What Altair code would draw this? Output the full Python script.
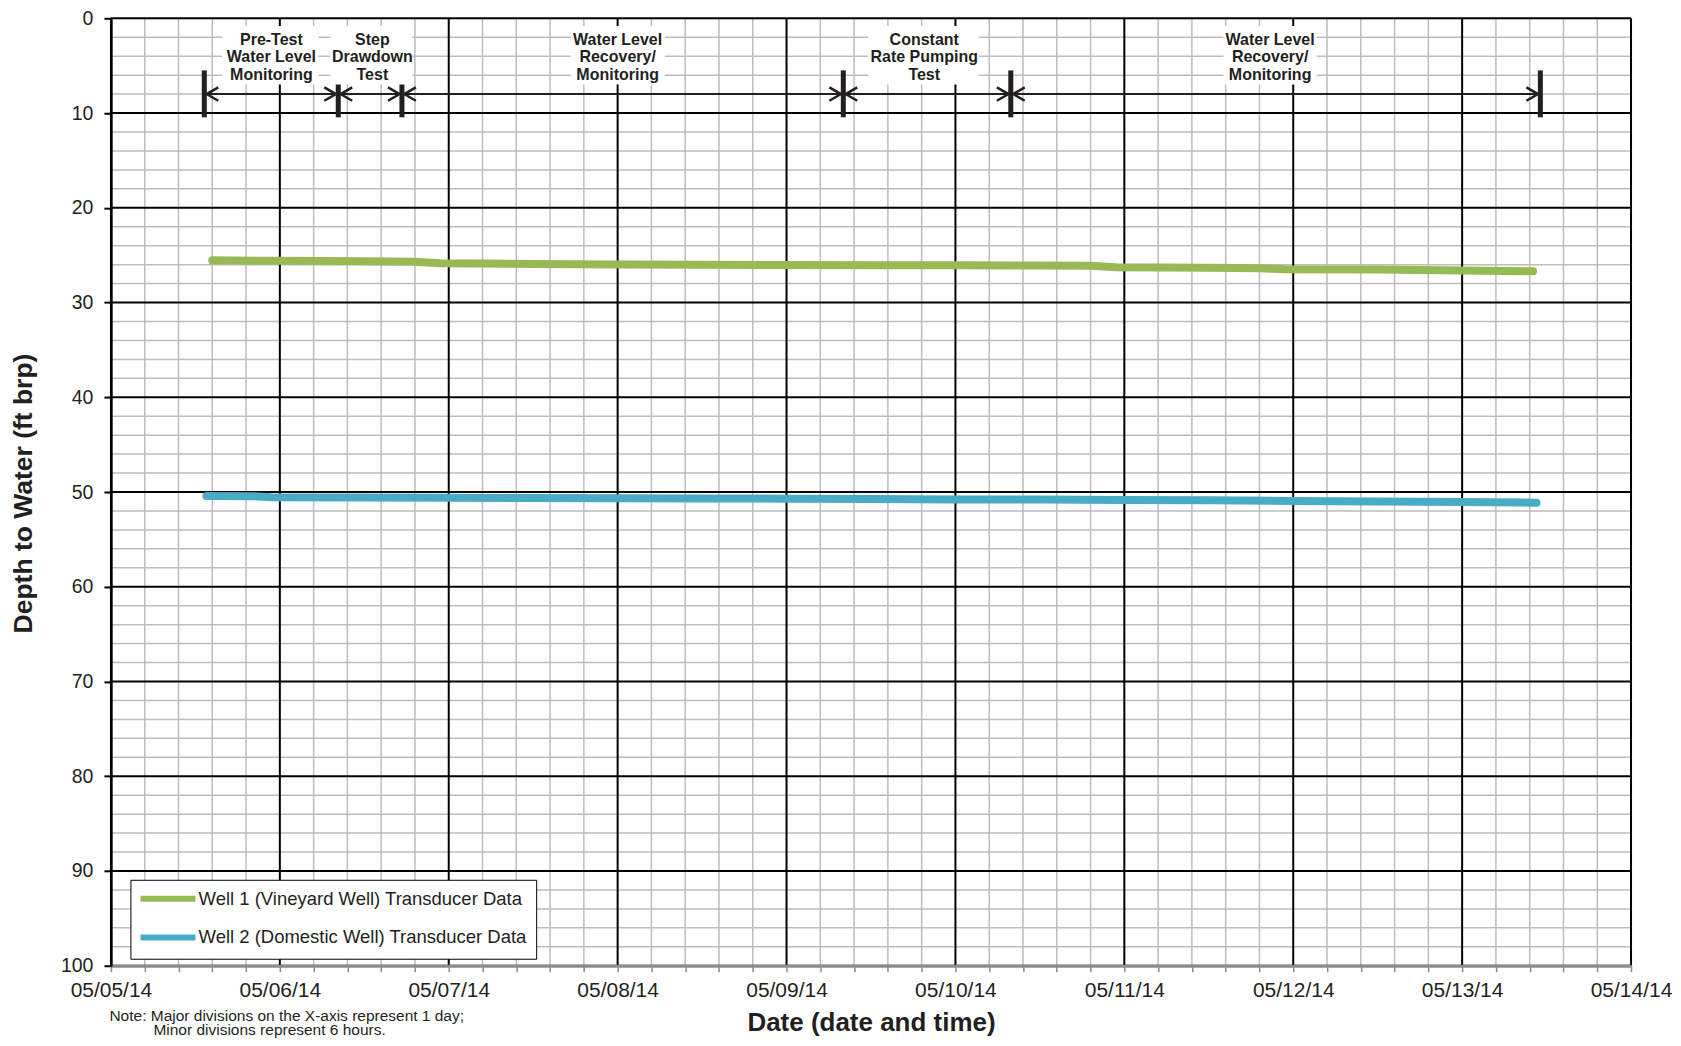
import altair as alt
import pandas as pd

# ---------------- data ----------------
well1_times = ["2014-05-05T14:24:00", "2014-05-06T00:00:00", "2014-05-06T12:00:00", "2014-05-06T19:12:00",
               "2014-05-06T22:48:00", "2014-05-07T12:00:00", "2014-05-08T00:00:00", "2014-05-08T12:00:00",
               "2014-05-09T00:00:00", "2014-05-09T12:00:00", "2014-05-10T00:00:00", "2014-05-10T12:00:00",
               "2014-05-10T19:12:00", "2014-05-10T22:48:00", "2014-05-11T12:00:00", "2014-05-11T19:12:00",
               "2014-05-11T22:48:00", "2014-05-12T12:00:00", "2014-05-13T00:00:00", "2014-05-13T10:05:00"]
well1_depth = [25.55, 25.60, 25.65, 25.70, 25.85, 25.92, 25.98, 26.02, 26.05, 26.06,
               26.07, 26.09, 26.12, 26.28, 26.33, 26.38, 26.48, 26.52, 26.63, 26.70]

well2_times = ["2014-05-05T13:34:00", "2014-05-05T20:24:00", "2014-05-05T22:48:00", "2014-05-06T12:00:00",
               "2014-05-07T00:00:00", "2014-05-07T12:00:00", "2014-05-08T00:00:00", "2014-05-08T12:00:00",
               "2014-05-09T00:00:00", "2014-05-09T12:00:00", "2014-05-10T00:00:00", "2014-05-10T12:00:00",
               "2014-05-11T00:00:00", "2014-05-11T12:00:00", "2014-05-12T00:00:00", "2014-05-12T12:00:00",
               "2014-05-13T00:00:00", "2014-05-13T10:34:00"]
well2_depth = [50.42, 50.45, 50.55, 50.58, 50.60, 50.63, 50.67, 50.68, 50.70, 50.74,
               50.78, 50.80, 50.84, 50.88, 50.95, 50.99, 51.05, 51.12]

series_names = ["Well 1 (Vineyard Well) Transducer Data", "Well 2 (Domestic Well) Transducer Data"]
series_colors = ["#98BA55", "#49ABC6"]

# test phase boundaries (bars) and labels
phase_bounds = ["2014-05-05T13:16:00", "2014-05-06T08:18:00", "2014-05-06T17:21:00",
                "2014-05-09T08:04:00", "2014-05-10T07:52:00", "2014-05-13T11:07:00"]
phase_labels = ["Pre-Test\nWater Level\nMonitoring", "Step\nDrawdown\nTest", "Water Level\nRecovery/\nMonitoring",
                "Constant\nRate Pumping\nTest", "Water Level\nRecovery/\nMonitoring"]
phase_label_at = ["2014-05-05T22:48:00", "2014-05-06T13:09:00", "2014-05-08T00:00:00",
                  "2014-05-09T19:34:00", "2014-05-11T20:43:00"]
label_box_start = ["2014-05-05T15:48:00", "2014-05-06T07:10:00", "2014-05-07T17:23:00",
                   "2014-05-09T11:38:00", "2014-05-11T14:05:00"]
label_box_end = ["2014-05-06T05:28:00", "2014-05-06T18:50:00", "2014-05-08T06:42:00",
                 "2014-05-10T03:20:00", "2014-05-12T03:20:00"]

x_start, x_end = "2014-05-05T00:00:00", "2014-05-14T00:00:00"
y_ticks = list(range(0, 101, 10))
note_lines = ["Note: Major divisions on the X-axis represent 1 day;", "Minor divisions represent 6 hours."]

# ---------------- tables ----------------
lines_df = pd.concat([
    pd.DataFrame({"t": well1_times, "v": well1_depth, "series": series_names[0]}),
    pd.DataFrame({"t": well2_times, "v": well2_depth, "series": series_names[1]}),
])
ticks_all = pd.date_range(x_start, x_end, freq="288min")
major_x = pd.DataFrame({"t": [d.strftime("%Y-%m-%dT%H:%M:%S") for d in ticks_all if d.hour == 0 and d.minute == 0]})
minor_x = pd.DataFrame({"t": [d.strftime("%Y-%m-%dT%H:%M:%S") for d in ticks_all if not (d.hour == 0 and d.minute == 0)]})
major_y = pd.DataFrame({"v": y_ticks})
minor_y = pd.DataFrame({"v": [v for v in range(0, 101, 2) if v % 10 != 0]})
x_values = [alt.DateTime(year=d.year, month=d.month, date=d.day, hours=d.hour, minutes=d.minute) for d in ticks_all]

bars_df = pd.DataFrame({"t": phase_bounds, "v": 5.5, "v2": 10.45})
seg_df = pd.DataFrame({"t": phase_bounds[:-1], "t2": phase_bounds[1:], "v": 8.0})
left_heads = pd.DataFrame({"t": phase_bounds[:-1], "v": 8.0})
right_heads = pd.DataFrame({"t": phase_bounds[1:], "v": 8.0})
labels_df = pd.DataFrame({"t": phase_label_at, "v": 2.3, "label": phase_labels})
boxes_df = pd.DataFrame({"t": label_box_start, "t2": label_box_end, "v": 0.8, "v2": 7.0})
note_df1 = pd.DataFrame({"txt": [note_lines[0]]})
note_df2 = pd.DataFrame({"txt": [note_lines[1]]})

FONT = "Liberation Sans"
INK = "#231f20"
W, H = 1521, 948

x_scale = alt.Scale(domain=[x_start, x_end], nice=False)
y_scale = alt.Scale(domain=[0, 100], reverse=True, nice=False, zero=False)

x_axis = alt.Axis(values=x_values, grid=False, zindex=1,
                  labelExpr="(hours(datum.value) == 0 && minutes(datum.value) == 0) ? timeFormat(datum.value, '%m/%d/%y') : ''",
                  labelFontSize=21, labelFont=FONT, labelColor=INK, labelPadding=8, labelFlush=False, labelOverlap=False,
                  tickColor="#8c8c8c", tickSize=6, tickWidth=1.5, domainColor="#8c8c8c", domainWidth=3,
                  title="Date (date and time)", titleFont=FONT, titleFontSize=26, titleFontWeight="bold", titleColor=INK,
                  titleX=W / 2, titleY=65, titleBaseline="alphabetic", titleAlign="center")
y_axis = alt.Axis(values=y_ticks, grid=False, zindex=1,
                  labelFontSize=19.5, labelFont=FONT, labelColor=INK, labelPadding=11,
                  tickColor="black", tickSize=7, tickWidth=2, domainColor="black", domainWidth=2.5,
                  title="Depth to Water (ft brp)", titleFont=FONT, titleFontSize=26.5, titleFontWeight="bold",
                  titleColor=INK, titleAngle=270, titleX=-79.5, titleY=H / 2 + 1, titleBaseline="alphabetic",
                  titleAlign="center")


def X(field):
    return alt.X(field, scale=x_scale, axis=x_axis)


def Y(field):
    return alt.Y(field, scale=y_scale, axis=y_axis)


minor_x_l = alt.Chart(minor_x).mark_rule(color="#bdbdbd", strokeWidth=1.5).encode(x=X("t:T"))
minor_y_l = alt.Chart(minor_y).mark_rule(color="#bdbdbd", strokeWidth=1.5).encode(y=Y("v:Q"))
major_x_l = alt.Chart(major_x).mark_rule(color="black", strokeWidth=2).encode(x=X("t:T"))
major_y_l = alt.Chart(major_y).mark_rule(color="black", strokeWidth=2).encode(y=Y("v:Q"))

lines_l = alt.Chart(lines_df).mark_line(strokeWidth=8, strokeCap="round", strokeJoin="round").encode(
    x=X("t:T"),
    y=Y("v:Q"),
    color=alt.Color("series:N", scale=alt.Scale(domain=series_names, range=series_colors),
                    legend=alt.Legend(orient="none", legendX=19.5, legendY=862, title=None,
                                      symbolType="M-4,0H4", symbolSize=189, symbolStrokeWidth=6,
                                      symbolOffset=18.6, labelOffset=20.6,
                                      labelFontSize=18.5, labelFont=FONT, labelColor=INK,
                                      labelLimit=500, padding=9, rowPadding=14.7,
                                      strokeColor="black", fillColor="white")),
)

bars_l = alt.Chart(bars_df).mark_rule(color=INK, strokeWidth=5).encode(x=X("t:T"), y=Y("v:Q"), y2="v2:Q")
boxes_l = alt.Chart(boxes_df).mark_rect(color="white").encode(x=X("t:T"), x2="t2:T", y=Y("v:Q"), y2="v2:Q")
text_l = alt.Chart(labels_df).mark_text(lineBreak="\n", font=FONT, fontSize=16, fontWeight="bold",
                                        lineHeight=17.3, align="center", baseline="middle", color=INK).encode(
    x=X("t:T"), y=Y("v:Q"), text="label:N")
seg_l = alt.Chart(seg_df).mark_rule(color=INK, strokeWidth=2).encode(x=X("t:T"), x2="t2:T", y=Y("v:Q"))
lh_l = alt.Chart(left_heads).mark_point(shape="M2.1,-1L0.35,0L2.1,1", size=177, filled=False, strokeWidth=2.5,
                                        color=INK, opacity=1).encode(x=X("t:T"), y=Y("v:Q"))
rh_l = alt.Chart(right_heads).mark_point(shape="M-2.1,-1L-0.35,0L-2.1,1", size=177, filled=False, strokeWidth=2.5,
                                         color=INK, opacity=1).encode(x=X("t:T"), y=Y("v:Q"))

note1_l = alt.Chart(note_df1).mark_text(align="left", baseline="alphabetic", font=FONT, fontSize=15.5, color=INK).encode(
    x=alt.value(-1.5), y=alt.value(1003), text="txt:N")
note2_l = alt.Chart(note_df2).mark_text(align="left", baseline="alphabetic", font=FONT, fontSize=15.5, color=INK).encode(
    x=alt.value(42.5), y=alt.value(1017), text="txt:N")

chart = alt.layer(
    minor_x_l, minor_y_l, major_x_l, major_y_l, lines_l, bars_l, boxes_l, text_l, seg_l, lh_l, rh_l, note1_l, note2_l
).properties(
    width=W, height=H,
    padding={"left": 103, "top": 10, "right": 42, "bottom": 72},
    autosize=alt.AutoSizeParams(type="none"),
).configure_view(stroke="black", strokeWidth=2.5).configure_legend(strokeWidth=2).configure(font=FONT)

chart.save("out.html", embed_options={"renderer": "svg", "actions": False})
